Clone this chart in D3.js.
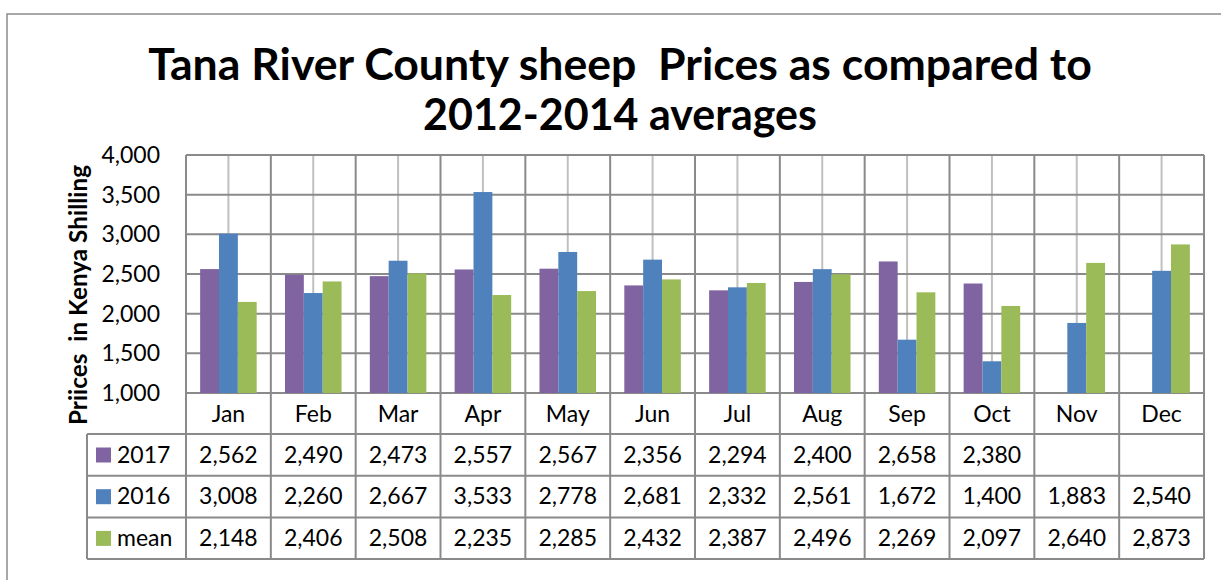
<!DOCTYPE html>
<html>
<head>
<meta charset="utf-8">
<script src="https://cdn.jsdelivr.net/npm/d3@7"></script>
<style>
  html, body { margin: 0; padding: 0; background: #fff; }
  svg { display: block; font-family: Lato, "Open Sans", sans-serif; }
  text { white-space: pre; }
</style>
</head>
<body>
<svg id="chart" width="1221" height="580"></svg>
<script>
const months = ["Jan","Feb","Mar","Apr","May","Jun","Jul","Aug","Sep","Oct","Nov","Dec"];
const seriesNames = ["2017","2016","mean"];
const values2017 = [2562,2490,2473,2557,2567,2356,2294,2400,2658,2380,null,null];
const values2016 = [3008,2260,2667,3533,2778,2681,2332,2561,1672,1400,1883,2540];
const valuesMean = [2148,2406,2508,2235,2285,2432,2387,2496,2269,2097,2640,2873];
const yTicks = [1000,1500,2000,2500,3000,3500,4000];
const colors = ["#8064A2","#4F81BD","#9BBB59"];
const titleLines = ["Tana River County sheep  Prices as compared to","2012-2014 averages"];
const yTitle = "Priices  in Kenya Shilling";

const seriesValues = [values2017, values2016, valuesMean];
const fmt = d3.format(",");

const svg = d3.select("#chart");
const plot = {left: 186, right: 1204, top: 155, bottom: 393};
const table = {left: 87, rowTop: 434, rowH: 41.7};
const gridDark = "#8a8a8a", gridLight = "#c0c0c0";

function fitText(sel, target) {
  const node = sel.node();
  const fs = parseFloat(sel.attr("font-size"));
  const w = node.getComputedTextLength();
  sel.attr("font-size", (fs * target / w).toFixed(2));
}

// outer frame
svg.append("rect").attr("x", 7).attr("y", 14).attr("width", 1230).attr("height", 600)
  .attr("fill", "none").attr("stroke", "#8c8c8c").attr("stroke-width", 1.5);

// title
const t1 = svg.append("text").attr("x", 620).attr("y", 80).attr("text-anchor", "middle")
  .attr("font-weight", "bold").attr("font-size", 40).attr("fill", "#000").text(titleLines[0]);
fitText(t1, 944);
const t2 = svg.append("text").attr("x", 620).attr("y", 130).attr("text-anchor", "middle")
  .attr("font-weight", "bold").attr("font-size", 40).attr("fill", "#000").text(titleLines[1]);
fitText(t2, 394);

// scales
const x = d3.scaleBand().domain(months).range([plot.left, plot.right]).padding(0);
const xs = d3.scaleBand().domain(seriesNames).range([0, x.bandwidth()]).paddingInner(0).paddingOuter(0.75);
const y = d3.scaleLinear().domain([1000, 4000]).range([plot.bottom, plot.top]);

// light vertical gridlines at category centers
svg.append("g").selectAll("line").data(months).join("line")
  .attr("x1", d => x(d) + x.bandwidth() / 2).attr("x2", d => x(d) + x.bandwidth() / 2)
  .attr("y1", plot.top).attr("y2", plot.bottom)
  .attr("stroke", gridLight).attr("stroke-width", 2);

// horizontal gridlines
svg.append("g").selectAll("line").data(yTicks).join("line")
  .attr("x1", plot.left).attr("x2", plot.right)
  .attr("y1", d => y(d)).attr("y2", d => y(d))
  .attr("stroke", gridDark).attr("stroke-width", 2);

// category boundary lines (plot + month row)
const bounds = months.map(m => x(m)).concat([plot.right]);
svg.append("g").selectAll("line").data(bounds).join("line")
  .attr("x1", d => d).attr("x2", d => d)
  .attr("y1", plot.top).attr("y2", table.rowTop)
  .attr("stroke", gridDark).attr("stroke-width", 2);

// bars
seriesNames.forEach((s, i) => {
  const data = months.map((m, j) => ({m, v: seriesValues[i][j]})).filter(d => d.v != null);
  svg.append("g").selectAll("rect").data(data).join("rect")
    .attr("x", d => x(d.m) + xs(s))
    .attr("width", xs.bandwidth())
    .attr("y", d => y(d.v))
    .attr("height", d => y(1000) - y(d.v))
    .attr("fill", colors[i]);
});

// y tick labels
svg.append("g").selectAll("text").data(yTicks).join("text")
  .attr("x", 160).attr("y", d => y(d) + 8).attr("text-anchor", "end")
  .attr("font-size", 23).attr("fill", "#000").text(d => fmt(d));

// y title
const yt = svg.append("text").attr("transform", "translate(87,295) rotate(-90)")
  .attr("text-anchor", "middle").attr("font-weight", "bold").attr("font-size", 20)
  .attr("fill", "#000").text(yTitle);
fitText(yt, 260);

// month labels
svg.append("g").selectAll("text").data(months).join("text")
  .attr("x", d => x(d) + x.bandwidth() / 2).attr("y", 422).attr("text-anchor", "middle")
  .attr("font-size", 23).attr("fill", "#000").text(d => d);

// table grid
const tableBottom = table.rowTop + 3 * table.rowH;
const tg = svg.append("g").attr("stroke", gridDark).attr("stroke-width", 2);
[0,1,2,3].forEach(r => {
  tg.append("line").attr("x1", table.left).attr("x2", plot.right)
    .attr("y1", table.rowTop + r * table.rowH).attr("y2", table.rowTop + r * table.rowH);
});
tg.append("line").attr("x1", table.left).attr("x2", table.left).attr("y1", table.rowTop).attr("y2", tableBottom);
tg.selectAll("line.v").data(bounds).join("line").attr("class", "v")
  .attr("x1", d => d).attr("x2", d => d).attr("y1", table.rowTop).attr("y2", tableBottom);

// table rows
seriesNames.forEach((s, i) => {
  const rowY = table.rowTop + i * table.rowH;
  svg.append("rect").attr("x", 96).attr("y", rowY + 13.5).attr("width", 15).attr("height", 15)
    .attr("fill", colors[i]);
  svg.append("text").attr("x", 117).attr("y", rowY + 28.5).attr("font-size", 23)
    .attr("fill", "#000").text(s);
  svg.append("g").selectAll("text").data(months.map((m, j) => ({m, v: seriesValues[i][j]})).filter(d => d.v != null))
    .join("text")
    .attr("x", d => x(d.m) + x.bandwidth() / 2).attr("y", rowY + 28.5).attr("text-anchor", "middle")
    .attr("font-size", 23).attr("fill", "#000").text(d => fmt(d.v));
});
</script>
</body>
</html>
